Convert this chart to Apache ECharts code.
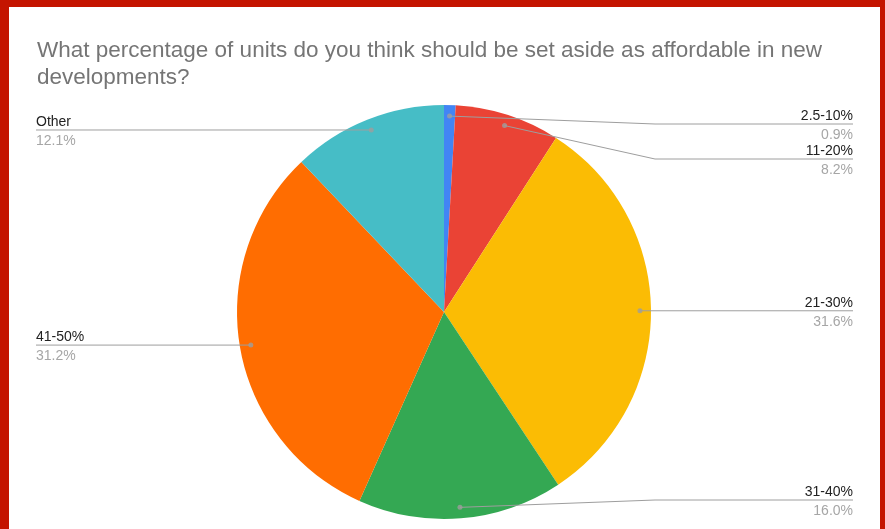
<!DOCTYPE html>
<html>
<head>
<meta charset="utf-8">
<script src="https://cdn.jsdelivr.net/npm/echarts@6/dist/echarts.min.js"></script>
<style>
  html, body { margin: 0; padding: 0; background: #c41400; }
  #chart {
    position: absolute;
    left: 0; top: 0;
    border-left: 9px solid #c41400;
    border-top: 7px solid #c41400;
    border-right: 5px solid #c41400;
    width: 871px;
    height: 522px;
    background: #fff;
  }
</style>
</head>
<body>
<div id="chart"></div>
<script>
  // data
  var categories = ['2.5-10%', '11-20%', '21-30%', '31-40%', '41-50%', 'Other'];
  var shares = [0.9, 8.2, 31.6, 16.0, 31.2, 12.1];
  var colors = ['#4285f4', '#ea4335', '#fbbc04', '#34a853', '#ff6d01', '#46bdc6'];

  var chart = echarts.init(document.getElementById('chart'));

  // geometry of the pie (chart coords)
  var cx = 435, cy = 305, R = 207, dotR = 196;
  var rightEnd = 844, leftEnd = 27, bendOff = 211;
  var minY = 117, maxY = 493, gap = 35, textShift = 1.5;

  var total = shares.reduce(function (a, b) { return a + b; }, 0);

  // mid position of each slice in percent (clockwise from top)
  var mids = [];
  var acc = 0;
  shares.forEach(function (v) {
    mids.push((acc + v / 2) / total * 100);
    acc += v;
  });

  // label line layout: dot on slice, horizontal line at dot height, push apart if crowded
  var layout = mids.map(function (m) {
    var a = m / 100 * Math.PI * 2;
    var dx = cx + dotR * Math.sin(a), dy = cy - dotR * Math.cos(a);
    return { dot: [dx, dy], right: Math.sin(a) >= 0, y: dy };
  });
  [true, false].forEach(function (side) {
    var items = layout.filter(function (l) { return l.right === side; })
      .sort(function (a, b) { return a.y - b.y; });
    var prev = -Infinity;
    items.forEach(function (l) {
      var y = Math.min(Math.max(l.y, minY), maxY);
      if (y < prev + gap) y = prev + gap;
      l.y = y;
      prev = y;
    });
  });

  var pieData = categories.map(function (c, i) {
    return { name: c, value: shares[i], itemStyle: { color: colors[i] } };
  });
  var labelData = categories.map(function (c, i) {
    return { name: c, value: shares[i] };
  });
  var dotData = mids.map(function (m) { return [dotR, m]; });

  var labelFont = 'Liberation Sans, Arial, sans-serif';

  var option = {
    backgroundColor: '#fff',
    animation: false,
    title: {
      left: 28,
      top: 30,
      padding: 0,
      text: 'What percentage of units do you think should be set aside as affordable in new\ndevelopments?',
      textStyle: {
        fontFamily: 'Liberation Sans, Arial, sans-serif',
        fontSize: 22.5,
        fontWeight: 'normal',
        color: '#757575',
        lineHeight: 27
      }
    },
    polar: { center: [cx, cy], radius: R },
    angleAxis: { type: 'value', min: 0, max: 100, startAngle: 90, clockwise: true, show: false },
    radiusAxis: { type: 'value', min: 0, max: R, show: false },
    series: [
      {
        type: 'pie',
        center: [cx, cy],
        radius: R,
        startAngle: 90,
        clockwise: true,
        data: pieData,
        itemStyle: { borderWidth: 0 },
        emphasis: { disabled: true },
        label: { show: false },
        labelLine: { show: false },
        z: 2
      },
      {
        // same slices, invisible, only carrying the labels so the lines sit above the pie
        type: 'pie',
        center: [cx, cy],
        radius: R,
        startAngle: 90,
        clockwise: true,
        data: labelData,
        silent: true,
        itemStyle: { color: 'rgba(0,0,0,0)', borderWidth: 0 },
        emphasis: { disabled: true },
        z: 4,
        label: {
          show: true,
          position: 'outside',
          fontFamily: labelFont,
          formatter: function (p) {
            return '{n|' + p.name + '}\n{p|' + p.value.toFixed(1) + '%}';
          },
          rich: {
            n: { fontFamily: labelFont, fontSize: 14, color: '#222', lineHeight: 19 },
            p: { fontFamily: labelFont, fontSize: 14, color: '#a6a6a6', lineHeight: 19 }
          }
        },
        labelLine: {
          show: true,
          lineStyle: { color: '#9e9e9e', width: 1 }
        },
        labelLayout: function (params) {
          var l = layout[params.dataIndex];
          var endX = l.right ? rightEnd : leftEnd;
          var bendX = l.right ? cx + bendOff : cx - bendOff;
          return {
            x: endX,
            y: l.y + textShift,
            align: l.right ? 'right' : 'left',
            verticalAlign: 'middle',
            labelLinePoints: [l.dot, [bendX, l.y], [endX, l.y]]
          };
        }
      },
      {
        type: 'scatter',
        coordinateSystem: 'polar',
        data: dotData,
        symbolSize: 5,
        itemStyle: { color: '#9e9e9e' },
        silent: true,
        z: 5
      }
    ]
  };

  chart.setOption(option);
</script>
</body>
</html>
